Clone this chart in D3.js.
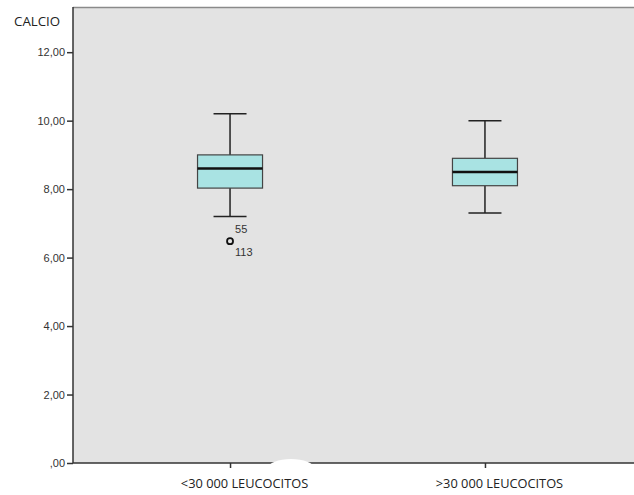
<!DOCTYPE html>
<html>
<head>
<meta charset="utf-8">
<script src="https://cdn.jsdelivr.net/npm/d3@7"></script>
<style>
  body { margin: 0; background: #fff; }
  svg { display: block; }
</style>
</head>
<body>
<svg id="chart" width="634" height="495"></svg>
<script>
// data
const categories = ["<30 000 LEUCOCITOS", ">30 000 LEUCOCITOS"]
const whiskerLow = [7.2, 7.3]
const q1 = [8.03, 8.1]
const medians = [8.6, 8.5]
const q3 = [9.0, 8.9]
const whiskerHigh = [10.2, 10.0]
const outliers = [
  {cat: 0, value: 6.48, labels: ["55", "113"]}
]
const yTicks = [0, 2, 4, 6, 8, 10, 12]

const svg = d3.select("#chart")
const plotLeft = 73, plotRight = 642, plotTop = 7, plotBottom = 463

const y = d3.scaleLinear().domain([0, 13.32]).range([plotBottom, plotTop])
const x = d3.scalePoint().domain(categories).range([plotLeft, plotRight]).padding(0.616)

const fmt = d => d === 0 ? ",00" : d3.format(".2f")(d).replace(".", ",")

// plot background
svg.append("rect")
  .attr("x", plotLeft).attr("y", plotTop)
  .attr("width", plotRight - plotLeft).attr("height", plotBottom - plotTop)
  .attr("fill", "#e3e3e3")
svg.append("line")
  .attr("x1", plotLeft).attr("x2", plotRight)
  .attr("y1", plotTop + 0.5).attr("y2", plotTop + 0.5)
  .attr("stroke", "#8a8a8a").attr("stroke-width", 1.5)

// axes
const yAxis = svg.append("g")
  .attr("transform", `translate(${plotLeft},0)`)
  .call(d3.axisLeft(y).tickValues(yTicks).tickFormat(fmt).tickSize(6).tickPadding(2))
yAxis.select(".domain").attr("d", `M0,${plotTop}V${plotBottom}`).attr("stroke", "#333").attr("stroke-width", 1.5)
yAxis.selectAll(".tick line").attr("stroke", "#333").attr("stroke-width", 1.5)
yAxis.selectAll("text")
  .attr("fill", "#333")
  .style("font-family", "'Liberation Sans', Arial, sans-serif")
  .style("font-size", "11px")

const xAxis = svg.append("g")
  .attr("transform", `translate(0,${plotBottom})`)
  .call(d3.axisBottom(x).tickSize(5).tickPadding(11))
xAxis.select(".domain").attr("d", `M${plotLeft},0H${plotRight}`).attr("stroke", "#333").attr("stroke-width", 1.5)
xAxis.selectAll(".tick line").attr("stroke", "#333").attr("stroke-width", 1.5)
xAxis.selectAll("text")
  .attr("dx", 14)
  .attr("fill", "#222")
  .style("font-family", "'Open Sans', sans-serif")
  .style("font-size", "12.8px")

// white smudge over the axis, as in the picture
svg.append("ellipse")
  .attr("cx", 291).attr("cy", 468)
  .attr("rx", 23).attr("ry", 9)
  .attr("fill", "#fff")

// axis title
svg.append("text")
  .attr("x", 14).attr("y", 26)
  .attr("fill", "#222")
  .style("font-family", "'Open Sans', sans-serif")
  .style("font-size", "13.3px")
  .text("CALCIO")

// boxes
const boxW = 65, capW = 33
const g = svg.append("g")
categories.forEach((c, i) => {
  const cx = x(c)
  g.append("line")
    .attr("x1", cx).attr("x2", cx)
    .attr("y1", y(whiskerHigh[i])).attr("y2", y(q3[i]))
    .attr("stroke", "#222").attr("stroke-width", 1.5)
  g.append("line")
    .attr("x1", cx).attr("x2", cx)
    .attr("y1", y(q1[i])).attr("y2", y(whiskerLow[i]))
    .attr("stroke", "#222").attr("stroke-width", 1.5)
  ;[whiskerHigh[i], whiskerLow[i]].forEach(v => {
    g.append("line")
      .attr("x1", cx - capW / 2).attr("x2", cx + capW / 2)
      .attr("y1", y(v)).attr("y2", y(v))
      .attr("stroke", "#222").attr("stroke-width", 1.5)
  })
  g.append("rect")
    .attr("x", cx - boxW / 2).attr("y", y(q3[i]))
    .attr("width", boxW).attr("height", y(q1[i]) - y(q3[i]))
    .attr("fill", "#a9e3e3").attr("stroke", "#444").attr("stroke-width", 1.2)
  g.append("line")
    .attr("x1", cx - boxW / 2).attr("x2", cx + boxW / 2)
    .attr("y1", y(medians[i])).attr("y2", y(medians[i]))
    .attr("stroke", "#111").attr("stroke-width", 2.5)
})

// outliers
outliers.forEach(o => {
  const cx = x(categories[o.cat]), cy = y(o.value)
  g.append("circle")
    .attr("cx", cx).attr("cy", cy).attr("r", 3)
    .attr("fill", "none").attr("stroke", "#111").attr("stroke-width", 1.8)
  o.labels.forEach((t, k) => {
    g.append("text")
      .attr("x", cx + 5).attr("y", cy + (k === 0 ? -8 : 15))
      .attr("fill", "#333")
      .style("font-family", "'Liberation Sans', Arial, sans-serif")
      .style("font-size", "11px")
      .text(t)
  })
})
</script>
</body>
</html>
